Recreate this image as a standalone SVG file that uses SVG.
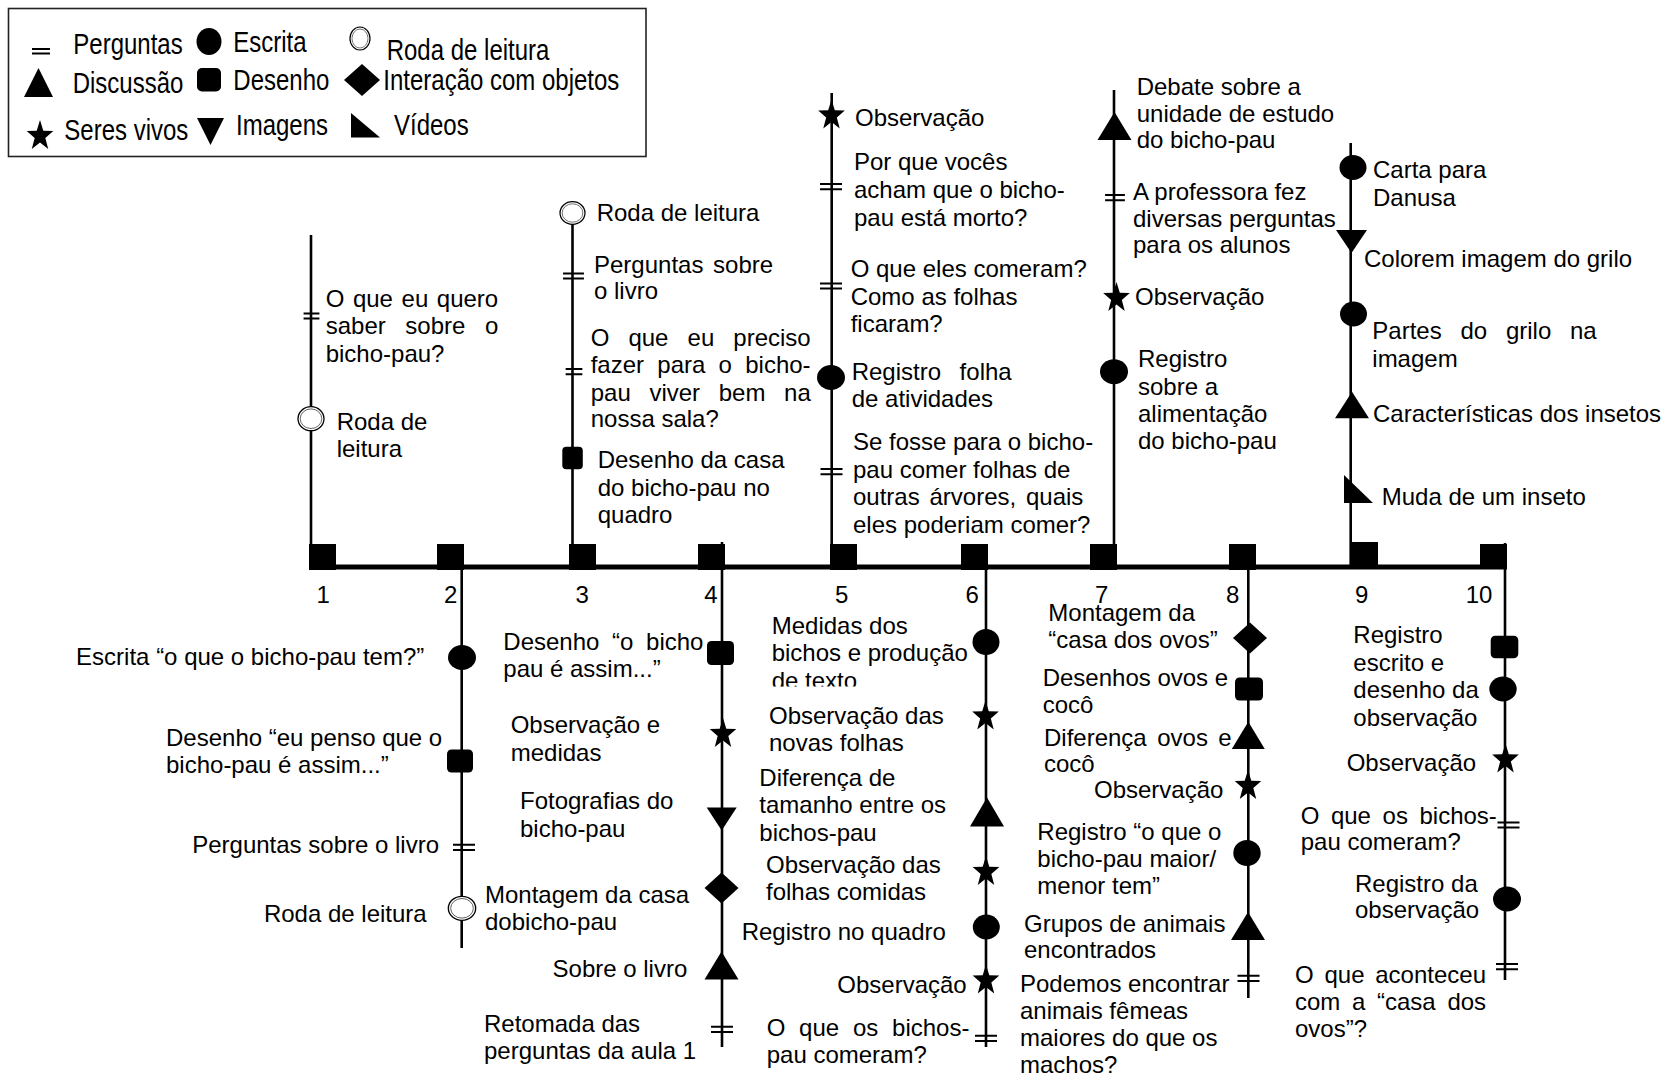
<svg xmlns="http://www.w3.org/2000/svg" width="1664" height="1080" viewBox="0 0 1664 1080">
  <style>
    .t { font-family: "Liberation Sans", Arial, Helvetica, sans-serif; font-size: 24px; fill: #000; }
    .n { font-family: "Liberation Sans", Arial, Helvetica, sans-serif; font-size: 24px; fill: #000; text-anchor: middle; }
    .e { text-anchor: end; }
    .axis { stroke: #000; stroke-width: 5; fill: none; }
    .stem { stroke: #000; stroke-width: 2.6; fill: none; }
    .sq { fill: #000; }
    .mk { fill: #000; }
  </style>
  <defs>
    <!-- activity markers, drawn around (0,0) -->
    <polygon id="star" class="mk" points="0,-16.1 3.29,-5.21 13.31,-4.98 5.33,1.99 8.23,13.03 0,6.44 -8.23,13.03 -5.33,1.99 -13.31,-4.98 -3.29,-5.21"/>
    <polygon id="tri" class="mk" points="0,-14 17,14 -17,14"/>
    <polygon id="tridown" class="mk" points="-15,-11.5 15,-11.5 0,11.5"/>
    <polygon id="diamond" class="mk" points="0,-15.5 17,0 0,15.5 -17,0"/>
    <rect id="box" class="mk" x="-13.5" y="-12" width="27" height="24" rx="4.5"/>
    <ellipse id="dot" class="mk" rx="14" ry="12.5"/>
    <g id="ring">
      <ellipse rx="13" ry="12" fill="#fff" stroke="#000" stroke-width="1.3"/>
      <ellipse rx="10.8" ry="9.8" fill="none" stroke="#555" stroke-width="0.9"/>
    </g>
    <path id="eq" d="M-11,-2.6 H11 M-11,2.6 H11" stroke="#000" stroke-width="2" fill="none"/>
    <clipPath id="cut-texto">
      <rect x="760" y="660" width="200" height="26.5"/>
    </clipPath>
  </defs>

  <rect width="1664" height="1080" fill="#fff"/>

  <!-- key -->
  <g id="legend">
    <rect x="8.5" y="8.5" width="637.5" height="148" fill="#fff" stroke="#222" stroke-width="1.6"/>
    <path d="M32,49 H50 M32,53.5 H50" stroke="#000" stroke-width="2" fill="none"/>
    <text class="t" transform="translate(73.3,53.5) scale(1,1.2)">Perguntas</text>
    <ellipse cx="209" cy="41.5" rx="12.5" ry="13.5" class="mk"/>
    <text class="t" transform="translate(233.3,52) scale(1,1.2)">Escrita</text>
    <ellipse cx="360" cy="38.5" rx="10" ry="11.5" fill="#fff" stroke="#000" stroke-width="1.2"/>
    <ellipse cx="360" cy="38.5" rx="8" ry="9.5" fill="none" stroke="#555" stroke-width="0.8"/>
    <text class="t" transform="translate(386.7,60) scale(1,1.2)">Roda de leitura</text>
    <polygon class="mk" points="24,97 53,97 38.5,68"/>
    <text class="t" transform="translate(72.7,93) scale(1,1.2)">Discussão</text>
    <rect class="mk" x="197" y="68" width="24" height="23.5" rx="5"/>
    <text class="t" transform="translate(233.3,90) scale(1,1.2)">Desenho</text>
    <polygon class="mk" points="362,64 380,80 362,96 344,80"/>
    <text class="t" transform="translate(383.3,90) scale(1,1.2)">Interação com objetos</text>
    <use href="#star" transform="translate(40,136)"/>
    <text class="t" transform="translate(64.3,140) scale(1,1.2)">Seres vivos</text>
    <polygon class="mk" points="197,118 224,118 210.5,145"/>
    <text class="t" transform="translate(236,135) scale(1,1.2)">Imagens</text>
    <polygon class="mk" points="351,113 351,137.5 380,137.5"/>
    <text class="t" transform="translate(394,135) scale(1,1.2)">Vídeos</text>
  </g>

  <!-- timeline axis and the stems of each lesson -->
  <g id="connectors">
    <line class="axis" x1="309" y1="567" x2="1507" y2="567"/>
    <line class="stem" x1="311" y1="235" x2="311" y2="567"/>
    <line class="stem" x1="461.7" y1="567" x2="461.7" y2="948"/>
    <line class="stem" x1="572.5" y1="213" x2="572.5" y2="567"/>
    <line class="stem" x1="722" y1="542" x2="722" y2="1047"/>
    <line class="stem" x1="831.7" y1="93" x2="831.7" y2="567"/>
    <line class="stem" x1="986" y1="567" x2="986" y2="1047"/>
    <line class="stem" x1="1114" y1="90" x2="1114" y2="567"/>
    <line class="stem" x1="1248.3" y1="567" x2="1248.3" y2="998"/>
    <line class="stem" x1="1350.7" y1="143" x2="1350.7" y2="567"/>
    <line class="stem" x1="1505" y1="543" x2="1505" y2="980"/>
  </g>

  <!-- lesson 1 -->
  <g id="lesson-1">
    <rect class="sq" x="309" y="544" width="27" height="26"/>
    <text class="n" x="323.3" y="603">1</text>
    <use href="#eq" transform="translate(311.5,316) scale(0.72,1)"/>
    <text class="t"><tspan x="325.7" y="306.7" style="word-spacing:1.9px">O que eu quero</tspan><tspan x="325.7" y="334" style="word-spacing:12.9px">saber sobre o</tspan><tspan x="325.7" y="361.7">bicho-pau?</tspan></text>
    <use href="#ring" transform="translate(311,418.7)"/>
    <text class="t"><tspan x="336.7" y="430">Roda de</tspan><tspan x="336.7" y="456.7">leitura</tspan></text>
  </g>

  <!-- lesson 2 -->
  <g id="lesson-2">
    <rect class="sq" x="437" y="544" width="27" height="26"/>
    <text class="n" x="450.7" y="603">2</text>
    <use href="#dot" transform="translate(462,657.5)"/>
    <text class="t e" x="424.3" y="665">Escrita “o que o bicho-pau tem?”</text>
    <rect class="mk" x="447" y="749.5" width="26" height="23" rx="4.5"/>
    <text class="t"><tspan x="166" y="745.7">Desenho “eu penso que o</tspan><tspan x="166" y="772.7">bicho-pau é assim...”</tspan></text>
    <use href="#eq" transform="translate(464,847.3)"/>
    <text class="t e" x="439" y="853.3">Perguntas sobre o livro</text>
    <use href="#ring" transform="translate(462,908.3) scale(1.05,1)"/>
    <text class="t e" x="426.7" y="921.7">Roda de leitura</text>
  </g>

  <!-- lesson 3 -->
  <g id="lesson-3">
    <rect class="sq" x="569" y="544" width="27" height="26"/>
    <text class="n" x="582.3" y="603">3</text>
    <use href="#ring" transform="translate(572.5,213) scale(0.96,0.94)"/>
    <text class="t" x="596.7" y="220.7">Roda de leitura</text>
    <use href="#eq" transform="translate(573.5,276) scale(0.95,1)"/>
    <text class="t"><tspan x="594" y="272.7" style="word-spacing:3px">Perguntas sobre</tspan><tspan x="594" y="299.3">o livro</tspan></text>
    <use href="#eq" transform="translate(574,371.7) scale(0.76,1)"/>
    <text class="t"><tspan x="590.7" y="346" style="word-spacing:12.4px">O que eu preciso</tspan><tspan x="590.7" y="373.3" style="word-spacing:6.6px">fazer para o bicho-</tspan><tspan x="590.7" y="400.7" style="word-spacing:12px">pau viver bem na</tspan><tspan x="590.7" y="427.3">nossa sala?</tspan></text>
    <rect class="mk" x="562.3" y="446.7" width="20.5" height="22.6" rx="4"/>
    <text class="t"><tspan x="597.7" y="468.3">Desenho da casa</tspan><tspan x="597.7" y="496">do bicho-pau no</tspan><tspan x="597.7" y="523.3">quadro</tspan></text>
  </g>

  <!-- lesson 4 -->
  <g id="lesson-4">
    <rect class="sq" x="698" y="544" width="27" height="26"/>
    <text class="n" x="711" y="603">4</text>
    <use href="#box" transform="translate(720.5,653)"/>
    <text class="t"><tspan x="503.3" y="650" style="word-spacing:6px">Desenho “o bicho</tspan><tspan x="503.3" y="676.7">pau é assim...”</tspan></text>
    <use href="#star" transform="translate(723,734)"/>
    <text class="t"><tspan x="510.7" y="733.3">Observação e</tspan><tspan x="510.7" y="761">medidas</tspan></text>
    <use href="#tridown" transform="translate(721.7,819)"/>
    <text class="t"><tspan x="520" y="809.3">Fotografias do</tspan><tspan x="520" y="836.7">bicho-pau</tspan></text>
    <use href="#diamond" transform="translate(721.5,888)"/>
    <text class="t"><tspan x="485" y="902.7">Montagem da casa</tspan><tspan x="485" y="930">dobicho-pau</tspan></text>
    <use href="#tri" transform="translate(721.5,965.5)"/>
    <text class="t e" x="687.3" y="976.7">Sobre o livro</text>
    <use href="#eq" transform="translate(722,1029.3)"/>
    <text class="t"><tspan x="484" y="1031.7">Retomada das</tspan><tspan x="484" y="1059.3">perguntas da aula 1</tspan></text>
  </g>

  <!-- lesson 5 -->
  <g id="lesson-5">
    <rect class="sq" x="830" y="544" width="27" height="26"/>
    <text class="n" x="841.7" y="603">5</text>
    <use href="#star" transform="translate(831.5,115.5)"/>
    <text class="t" x="855" y="125.5">Observação</text>
    <use href="#eq" transform="translate(831,186.7)"/>
    <text class="t"><tspan x="854" y="170">Por que vocês</tspan><tspan x="854" y="198">acham que o bicho-</tspan><tspan x="854" y="225.7">pau está morto?</tspan></text>
    <use href="#eq" transform="translate(831,286)"/>
    <text class="t"><tspan x="850.7" y="276.7">O que eles comeram?</tspan><tspan x="850.7" y="305">Como as folhas</tspan><tspan x="850.7" y="331.7">ficaram?</tspan></text>
    <use href="#dot" transform="translate(831,377.5)"/>
    <text class="t"><tspan x="851.7" y="380" style="word-spacing:11.9px">Registro folha</tspan><tspan x="851.7" y="406.7">de atividades</tspan></text>
    <use href="#eq" transform="translate(831.5,471.7)"/>
    <text class="t"><tspan x="853" y="450">Se fosse para o bicho-</tspan><tspan x="853" y="478">pau comer folhas de</tspan><tspan x="853" y="505" style="word-spacing:3.1px">outras árvores, quais</tspan><tspan x="853" y="533">eles poderiam comer?</tspan></text>
  </g>

  <!-- lesson 6 -->
  <g id="lesson-6">
    <rect class="sq" x="961" y="544" width="27" height="26"/>
    <text class="n" x="972.3" y="603">6</text>
    <ellipse class="mk" cx="986" cy="642" rx="13.5" ry="13"/>
    <text class="t"><tspan x="771.7" y="634">Medidas dos</tspan><tspan x="771.7" y="661">bichos e produção</tspan></text>
    <text class="t" x="771.7" y="689" clip-path="url(#cut-texto)">de texto</text>
    <use href="#star" transform="translate(985.5,716.5)"/>
    <text class="t"><tspan x="769" y="724">Observação das</tspan><tspan x="769" y="750.7">novas folhas</tspan></text>
    <use href="#tri" transform="translate(987,812) scale(1,1.04)"/>
    <text class="t"><tspan x="759.3" y="786">Diferença de</tspan><tspan x="759.3" y="813.3">tamanho entre os</tspan><tspan x="759.3" y="840.7">bichos-pau</tspan></text>
    <use href="#star" transform="translate(986,872)"/>
    <text class="t"><tspan x="766" y="873.3">Observação das</tspan><tspan x="766" y="900">folhas comidas</tspan></text>
    <ellipse class="mk" cx="986.3" cy="927" rx="13.5" ry="12.5"/>
    <text class="t" x="741.7" y="940">Registro no quadro</text>
    <use href="#star" transform="translate(986,980.5)"/>
    <text class="t e" x="966.7" y="992.7">Observação</text>
    <use href="#eq" transform="translate(986,1038.3)"/>
    <text class="t"><tspan x="766.7" y="1036" style="word-spacing:7.1px">O que os bichos-</tspan><tspan x="766.7" y="1062.7">pau comeram?</tspan></text>
  </g>

  <!-- lesson 7 -->
  <g id="lesson-7">
    <rect class="sq" x="1090" y="544" width="27" height="26"/>
    <text class="n" x="1101.7" y="603">7</text>
    <use href="#tri" transform="translate(1114.5,126)"/>
    <text class="t"><tspan x="1136.7" y="95">Debate sobre a</tspan><tspan x="1136.7" y="121.7">unidade de estudo</tspan><tspan x="1136.7" y="148">do bicho-pau</tspan></text>
    <use href="#eq" transform="translate(1115,197.7) scale(0.9,1)"/>
    <text class="t"><tspan x="1133" y="200">A professora fez</tspan><tspan x="1133" y="226.7">diversas perguntas</tspan><tspan x="1133" y="253">para os alunos</tspan></text>
    <use href="#star" transform="translate(1116.5,298)"/>
    <text class="t" x="1135" y="305">Observação</text>
    <use href="#dot" transform="translate(1114,371.7)"/>
    <text class="t"><tspan x="1138" y="366.7">Registro</tspan><tspan x="1138" y="395">sobre a</tspan><tspan x="1138" y="421.7">alimentação</tspan><tspan x="1138" y="449">do bicho-pau</tspan></text>
  </g>

  <!-- lesson 8 -->
  <g id="lesson-8">
    <rect class="sq" x="1229" y="544" width="27" height="26"/>
    <text class="n" x="1232.7" y="603">8</text>
    <use href="#diamond" transform="translate(1250,638)"/>
    <text class="t"><tspan x="1048.3" y="620.7">Montagem da</tspan><tspan x="1048.3" y="648.3">“casa dos ovos”</tspan></text>
    <rect class="mk" x="1235" y="677.5" width="28" height="23" rx="4.5"/>
    <text class="t"><tspan x="1042.7" y="686">Desenhos ovos e</tspan><tspan x="1042.7" y="713.3">cocô</tspan></text>
    <use href="#tri" transform="translate(1248.3,735.3) scale(0.97,0.97)"/>
    <text class="t"><tspan x="1044" y="745.7" style="word-spacing:3.8px">Diferença ovos e</tspan><tspan x="1044" y="771.7">cocô</tspan></text>
    <use href="#star" transform="translate(1248,786)"/>
    <text class="t" x="1094" y="798.3">Observação</text>
    <ellipse class="mk" cx="1247" cy="853" rx="13.7" ry="13"/>
    <text class="t"><tspan x="1037.3" y="840">Registro “o que o</tspan><tspan x="1037.3" y="866.7">bicho-pau maior/</tspan><tspan x="1037.3" y="894.3">menor tem”</tspan></text>
    <use href="#tri" transform="translate(1248,926)"/>
    <text class="t"><tspan x="1024" y="931.7">Grupos de animais</tspan><tspan x="1024" y="958.3">encontrados</tspan></text>
    <use href="#eq" transform="translate(1248.5,978.3)"/>
    <text class="t"><tspan x="1020" y="991.5">Podemos encontrar</tspan><tspan x="1020" y="1018.5">animais fêmeas</tspan><tspan x="1020" y="1046">maiores do que os</tspan><tspan x="1020" y="1073">machos?</tspan></text>
  </g>

  <!-- lesson 9 -->
  <g id="lesson-9">
    <rect class="sq" x="1351" y="542" width="27" height="27"/>
    <text class="n" x="1361.7" y="603">9</text>
    <ellipse class="mk" cx="1353" cy="167.5" rx="13.5" ry="12.5"/>
    <text class="t"><tspan x="1373" y="178.3">Carta para</tspan><tspan x="1373" y="206">Danusa</tspan></text>
    <polygon class="mk" points="1336,230 1367,230 1351.5,253"/>
    <text class="t" x="1364" y="266.7">Colorem imagem do grilo</text>
    <ellipse class="mk" cx="1353.5" cy="314" rx="13.5" ry="12.5"/>
    <text class="t"><tspan x="1372.3" y="339.3" style="word-spacing:12.1px">Partes do grilo na</tspan><tspan x="1372.3" y="366.7">imagem</tspan></text>
    <polygon class="mk" points="1352,391.7 1369,418.3 1335,418.3"/>
    <text class="t" x="1373" y="421.7">Características dos insetos</text>
    <polygon class="mk" points="1344,475 1344,503 1373,503"/>
    <text class="t" x="1381.7" y="505">Muda de um inseto</text>
  </g>

  <!-- lesson 10 -->
  <g id="lesson-10">
    <rect class="sq" x="1480" y="544" width="27" height="25"/>
    <text class="n" x="1479" y="603">10</text>
    <rect class="mk" x="1490.7" y="635.7" width="27.6" height="22.6" rx="4.5"/>
    <text class="t"><tspan x="1353.3" y="643.3">Registro</tspan><tspan x="1353.3" y="671">escrito e</tspan><tspan x="1353.3" y="698.3">desenho da</tspan><tspan x="1353.3" y="725.7">observação</tspan></text>
    <ellipse class="mk" cx="1503" cy="689" rx="13.7" ry="12.5"/>
    <use href="#star" transform="translate(1505.5,759.5)"/>
    <text class="t" x="1346.7" y="771">Observação</text>
    <use href="#eq" transform="translate(1508.5,825)"/>
    <text class="t"><tspan x="1300.7" y="824" style="word-spacing:4.9px">O que os bichos-</tspan><tspan x="1300.7" y="850">pau comeram?</tspan></text>
    <ellipse class="mk" cx="1507" cy="899" rx="14" ry="12.5"/>
    <text class="t"><tspan x="1355" y="891.7">Registro da</tspan><tspan x="1355" y="918.3">observação</tspan></text>
    <use href="#eq" transform="translate(1507,966.7)"/>
    <text class="t"><tspan x="1295" y="983.3" style="word-spacing:4.1px">O que aconteceu</tspan><tspan x="1295" y="1010" style="word-spacing:5px">com a “casa dos</tspan><tspan x="1295" y="1036.7">ovos”?</tspan></text>
  </g>
</svg>
